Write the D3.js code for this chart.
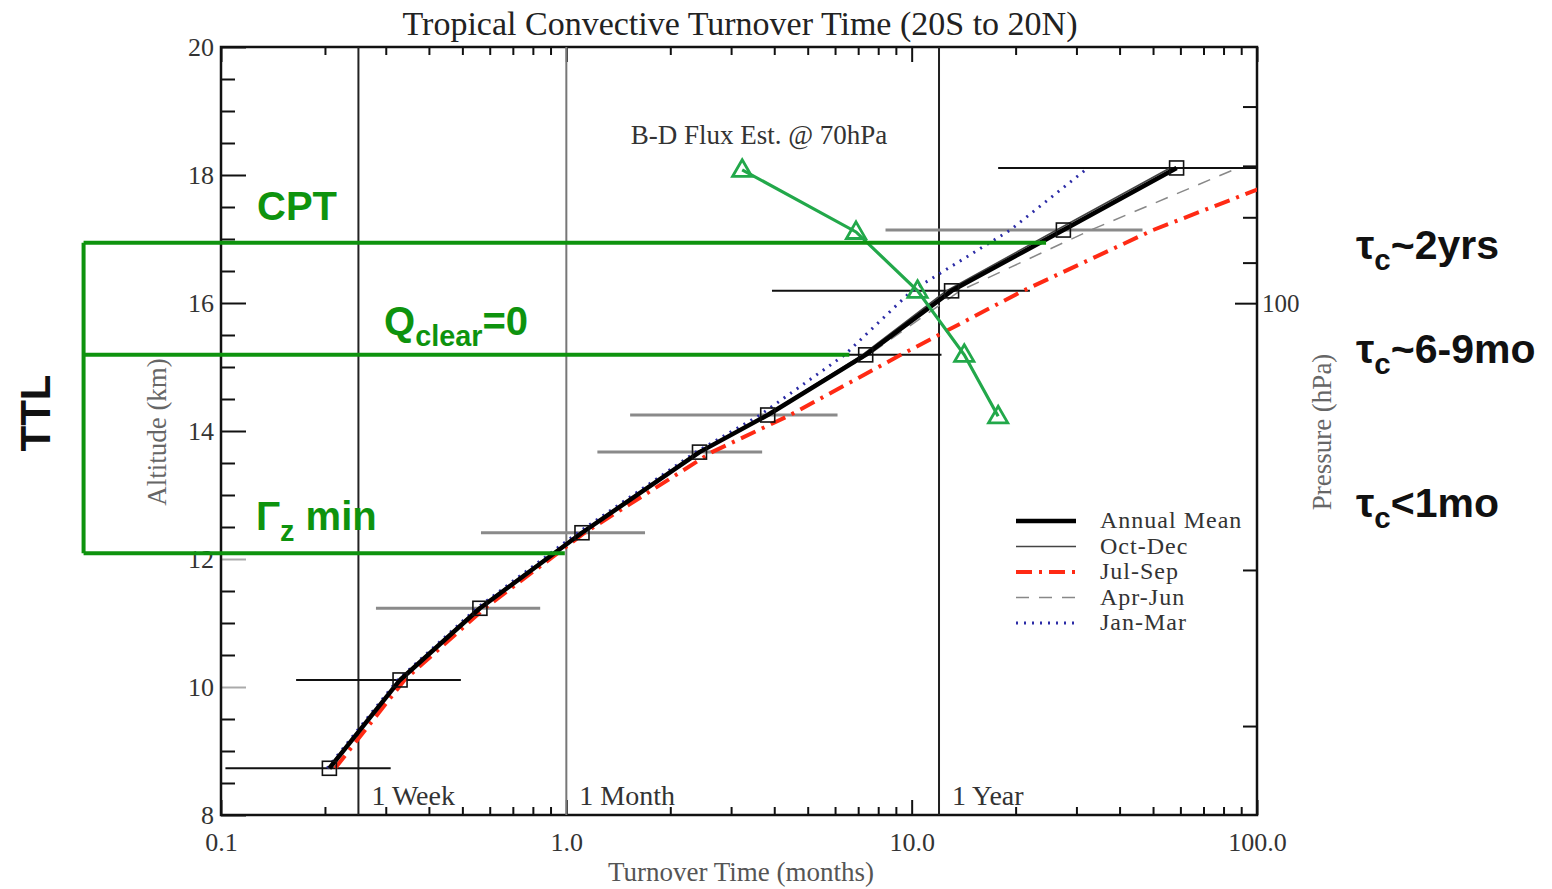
<!DOCTYPE html>
<html>
<head>
<meta charset="utf-8">
<script src="https://cdn.jsdelivr.net/npm/d3@7"></script>
<style>
  html, body { margin: 0; padding: 0; background: #fff; }
  svg { display: block; }
</style>
</head>
<body>
<svg id="chart" width="1552" height="889"></svg>
<script>
// ---------------- DATA ----------------
const altitudes = [8.73, 10.11, 11.23, 12.41, 13.67, 14.25, 15.19, 16.19, 17.14, 18.11]; // km
const annualMean = [0.206, 0.33, 0.562, 1.11, 2.43, 3.83, 7.36, 13.05, 27.5, 58.5];     // months
const octDec     = [0.204, 0.328, 0.555, 1.10, 2.42, 3.80, 7.2, 12.6, 26.3, 56.0];
const julSep     = [0.214, 0.34, 0.58, 1.13, 2.64, 4.45, 9.3, 21.0, 50.0, 145.0];
const aprJun     = [0.205, 0.33, 0.56, 1.10, 2.40, 3.80, 7.5, 13.8, 33.0, 88.0];
const janMar     = [0.203, 0.325, 0.55, 1.08, 2.37, 3.64, 6.4, 10.0, 19.3, 32.4];
const errLow     = [0.103, 0.165, 0.281, 0.566, 1.23, 1.53, 2.61, 3.94, 8.4, 17.8];
const errHigh    = [0.31, 0.495, 0.84, 1.69, 3.69, 6.1, 12.2, 22.0, 46.6, 160.0];
const errTone    = ["dark", "dark", "grey", "grey", "grey", "grey", "dark", "dark", "grey", "dark"];

const bdAltitudes = [18.08, 17.11, 16.19, 15.19, 14.23];
const bdFlux      = [3.23, 6.9, 10.4, 14.2, 17.8];

const refTimes  = [0.25, 1.0, 12.0];
const refLabels = ["1 Week", "1 Month", "1 Year"];

const xMajorTicks = [0.1, 1, 10, 100];
const xTickLabels = ["0.1", "1.0", "10.0", "100.0"];
const yMajorTicks = [8, 10, 12, 14, 16, 18, 20];
const pressureTicks = [60, 70, 80, 90, 100, 200, 300];
const pressureLabels = ["", "", "", "", "100", "", ""];

// green TTL box levels (km) and where each line meets the curve (months)
const boxLevels = [16.94, 15.19, 12.09];
const boxEnds   = [24.5, 6.6, 0.99];
const boxLeft   = 0.04; // months (left of the axis)

const seriesNames = ["Annual Mean", "Oct-Dec", "Jul-Sep", "Apr-Jun", "Jan-Mar"];

// ---------------- LAYOUT ----------------
const svg = d3.select("#chart");
const L = 221, R = 1257, T = 47, B = 815;
const x = d3.scaleLog().domain([0.1, 100]).range([L, R]);
const y = d3.scaleLinear().domain([8, 20]).range([B, T]);
const p = d3.scaleLog().domain([378, 51.4]).range([B, T]);

const serif = "'Liberation Serif', 'DejaVu Serif', serif";
const sans = "'Liberation Sans', Arial, sans-serif";
const green = "#0e930e";

svg.append("defs").append("clipPath").attr("id", "plotclip")
  .append("rect").attr("x", L).attr("y", T).attr("width", R - L).attr("height", B - T);

// minor tick values for log axis
const xAllTicks = [];
[0.1, 1, 10].forEach(d => { for (let k = 1; k <= 9; k++) xAllTicks.push(+(d * k).toPrecision(3)); });
xAllTicks.push(100);
const isMajorX = v => xMajorTicks.some(m => Math.abs(m - v) < 1e-9);

// ---------------- AXES ----------------
function styleAxis(g) {
  g.select(".domain").remove();
  g.selectAll("line").attr("stroke", "#111").attr("stroke-width", 2);
  g.selectAll("text").attr("font-family", serif).attr("fill", "#333");
}

// bottom
const gx = svg.append("g").attr("transform", `translate(0,${B})`)
  .call(d3.axisBottom(x).tickValues(xAllTicks).tickSize(-8).tickPadding(18)
    .tickFormat(v => { const i = xMajorTicks.findIndex(m => Math.abs(m - v) < 1e-9); return i >= 0 ? xTickLabels[i] : ""; }));
styleAxis(gx);
gx.selectAll(".tick").filter(isMajorX).select("line").attr("y2", -15);
gx.selectAll("text").attr("font-size", 26);

// top
const gt = svg.append("g").attr("transform", `translate(0,${T})`)
  .call(d3.axisTop(x).tickValues(xAllTicks).tickSize(-8).tickFormat(""));
styleAxis(gt);
gt.selectAll(".tick").filter(isMajorX).select("line").attr("y2", 15);

// left
const yAll = d3.range(8, 20.001, 0.5);
const gy = svg.append("g").attr("transform", `translate(${L},0)`)
  .call(d3.axisLeft(y).tickValues(yAll).tickSize(-14).tickPadding(7)
    .tickFormat(v => yMajorTicks.includes(v) ? String(v) : ""));
styleAxis(gy);
gy.selectAll(".tick").filter(v => yMajorTicks.includes(v)).select("line").attr("x2", 25);
gy.selectAll(".tick").filter(v => v === 10 || v === 12).select("line").attr("stroke", "#aaa");
gy.selectAll("text").attr("font-size", 26);

// right (pressure)
const gp = svg.append("g").attr("transform", `translate(${R},0)`)
  .call(d3.axisRight(p).tickValues(pressureTicks).tickSize(-14).tickPadding(5)
    .tickFormat((v, i) => pressureLabels[i]));
styleAxis(gp);
gp.selectAll(".tick").filter(v => v === 100).select("line").attr("x2", -22);
gp.selectAll("text").attr("font-size", 25);

// frame
svg.append("rect").attr("x", L).attr("y", T).attr("width", R - L).attr("height", B - T)
  .attr("fill", "none").attr("stroke", "#111").attr("stroke-width", 2.5);

// axis titles
svg.append("text").attr("x", 741).attr("y", 881).attr("text-anchor", "middle")
  .attr("font-family", serif).attr("font-size", 27).attr("fill", "#555").text("Turnover Time (months)");
svg.append("text").attr("transform", "translate(166,432) rotate(-90)").attr("text-anchor", "middle")
  .attr("font-family", serif).attr("font-size", 27).attr("fill", "#666").text("Altitude (km)");
svg.append("text").attr("transform", "translate(1331,432) rotate(-90)").attr("text-anchor", "middle")
  .attr("font-family", serif).attr("font-size", 27).attr("fill", "#666").text("Pressure (hPa)");

// title
svg.append("text").attr("x", 740).attr("y", 35).attr("text-anchor", "middle")
  .attr("font-family", serif).attr("font-size", 34).attr("fill", "#222")
  .text("Tropical Convective Turnover Time (20S to 20N)");

// ---------------- REFERENCE LINES ----------------
const refColors = ["#222", "#777", "#222"];
refTimes.forEach((t, i) => {
  svg.append("line").attr("x1", x(t)).attr("x2", x(t)).attr("y1", T).attr("y2", B)
    .attr("stroke", refColors[i]).attr("stroke-width", 2);
  svg.append("text").attr("x", x(t) + 13).attr("y", 805)
    .attr("font-family", serif).attr("font-size", 28).attr("fill", "#333").text(refLabels[i]);
});

// ---------------- DATA MARKS ----------------
const plot = svg.append("g").attr("clip-path", "url(#plotclip)");

// error bars
plot.selectAll("line.err").data(altitudes).enter().append("line")
  .attr("x1", (d, i) => x(errLow[i])).attr("x2", (d, i) => x(errHigh[i]))
  .attr("y1", d => y(d)).attr("y2", d => y(d))
  .attr("stroke", (d, i) => errTone[i] === "dark" ? "#111" : "#8a8a8a")
  .attr("stroke-width", (d, i) => errTone[i] === "dark" ? 2 : 3);

const lineGen = vals => d3.line().x((d, i) => x(vals[i])).y(d => y(d))(altitudes);

const styles = [
  { vals: annualMean, color: "#000", width: 4.5, dash: null },
  { vals: octDec, color: "#444", width: 1.6, dash: null },
  { vals: julSep, color: "#ff2a14", width: 4, dash: "16,7,3,7" },
  { vals: aprJun, color: "#888", width: 1.5, dash: "13,10" },
  { vals: janMar, color: "#2b2ba6", width: 3, dash: "2,6" }
];
// draw order: under -> over
[3, 2, 4, 1, 0].forEach(k => {
  const s = styles[k];
  plot.append("path").attr("d", lineGen(s.vals)).attr("fill", "none")
    .attr("stroke", s.color).attr("stroke-width", s.width)
    .attr("stroke-dasharray", s.dash).attr("stroke-linejoin", "round");
});

// squares
plot.selectAll("rect.sq").data(altitudes).enter().append("rect")
  .attr("x", (d, i) => x(annualMean[i]) - 7).attr("y", d => y(d) - 7)
  .attr("width", 14).attr("height", 14).attr("fill", "none")
  .attr("stroke", "#111").attr("stroke-width", 1.6);

// B-D flux estimate
const bdColor = "#22a84a";
plot.append("path")
  .attr("d", d3.line().x((d, i) => x(bdFlux[i])).y(d => y(d))(bdAltitudes))
  .attr("fill", "none").attr("stroke", bdColor).attr("stroke-width", 3.2);
const tri = d3.symbol().type(d3.symbolTriangle).size(160);
plot.selectAll("path.tri").data(bdAltitudes).enter().append("path")
  .attr("d", tri).attr("transform", (d, i) => `translate(${x(bdFlux[i])},${y(d) + 1})`)
  .attr("fill", "none").attr("stroke", bdColor).attr("stroke-width", 2.8);
svg.append("text").attr("x", 759).attr("y", 144).attr("text-anchor", "middle")
  .attr("font-family", serif).attr("font-size", 27).attr("fill", "#333").text("B-D Flux Est. @ 70hPa");

// ---------------- LEGEND ----------------
const lg = svg.append("g");
seriesNames.forEach((name, i) => {
  const s = styles[i];
  const yy = 521 + i * 25.5;
  lg.append("line").attr("x1", 1016).attr("x2", 1076).attr("y1", yy).attr("y2", yy)
    .attr("stroke", s.color).attr("stroke-width", s.width)
    .attr("stroke-dasharray", s.dash);
  lg.append("text").attr("x", 1100).attr("y", yy + 7)
    .attr("font-family", serif).attr("font-size", 24).attr("letter-spacing", 1)
    .attr("fill", "#333").text(name);
});

// ---------------- TTL ANNOTATIONS ----------------
const ann = svg.append("g").attr("stroke", green).attr("stroke-width", 4).attr("fill", "none");
boxLevels.forEach((lev, i) => {
  ann.append("line").attr("x1", x(boxLeft)).attr("x2", x(boxEnds[i]))
    .attr("y1", y(lev)).attr("y2", y(lev));
});
ann.append("line").attr("x1", x(boxLeft)).attr("x2", x(boxLeft))
  .attr("y1", y(boxLevels[0])).attr("y2", y(boxLevels[2]));

function gtext(xp, yp, size, parts, color) {
  const t = svg.append("text").attr("x", xp).attr("y", yp)
    .attr("font-family", sans).attr("font-weight", "bold").attr("font-size", size).attr("fill", color);
  parts.forEach(pt => {
    const ts = t.append("tspan").text(pt.t);
    if (pt.sub) ts.attr("font-size", size * 0.72).attr("dy", size * 0.28);
    if (pt.up) ts.attr("dy", -size * 0.28);
  });
  return t;
}
gtext(257, 220, 40, [{ t: "CPT" }], green);
gtext(384, 335, 40, [{ t: "Q" }, { t: "clear", sub: true }, { t: "=0", up: true }], green);
gtext(256, 530, 40, [{ t: "Γ" }, { t: "z", sub: true }, { t: " min", up: true }], green);

svg.append("text").attr("transform", "translate(50,413) rotate(-90)").attr("text-anchor", "middle")
  .attr("font-family", sans).attr("font-weight", "bold").attr("font-size", 42).attr("fill", "#111").text("TTL");

gtext(1356, 259, 41, [{ t: "τ" }, { t: "c", sub: true }, { t: "~2yrs", up: true }], "#111");
gtext(1356, 363, 41, [{ t: "τ" }, { t: "c", sub: true }, { t: "~6-9mo", up: true }], "#111");
gtext(1356, 517, 41, [{ t: "τ" }, { t: "c", sub: true }, { t: "<1mo", up: true }], "#111");
</script>
</body>
</html>
